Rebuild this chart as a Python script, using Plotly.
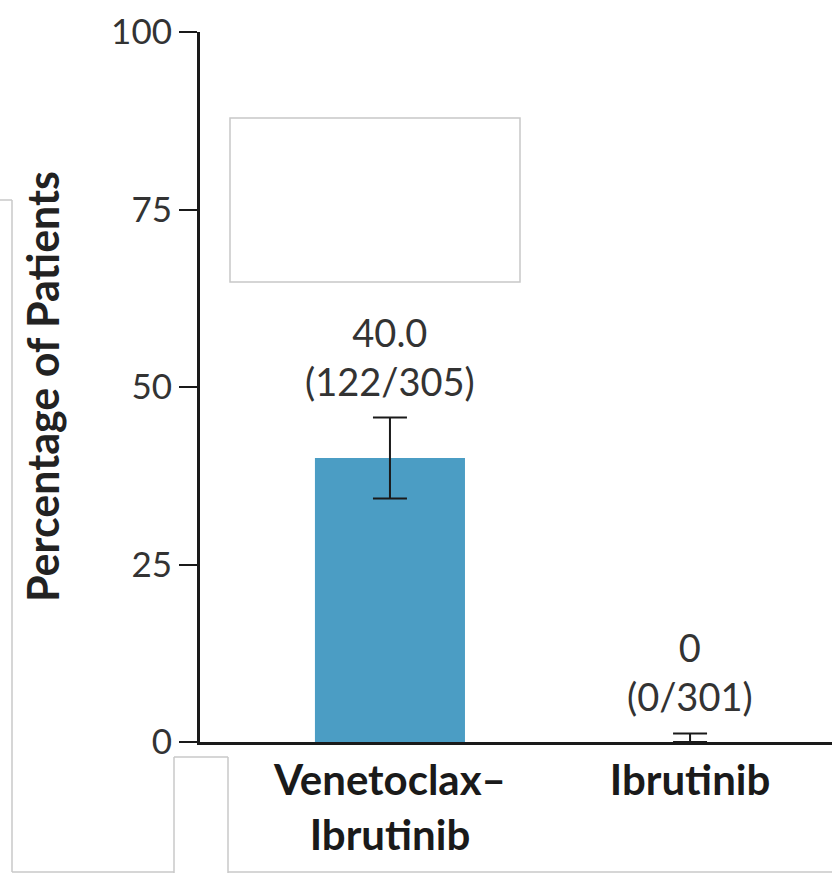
import plotly.graph_objects as go

categories = ["Venetoclax–<br>Ibrutinib", "Ibrutinib"]
percent = [40.0, 0.0]
err_plus = [5.7, 1.2]
err_minus = [5.7, 0.0]
value_labels = ["40.0", "0"]
count_labels = ["(122/305)", "(0/301)"]
y_ticks = [0, 25, 50, 75, 100]

FONT = "Lato"
W, H = 832, 873
L, R, T, B = 200, 0, 32, 131
pw, ph = W - L - R, H - T - B

def px(x):
    return (x - L) / pw

def py(y):
    return (H - B - y) / ph

fig = go.Figure()
fig.add_trace(go.Bar(
    x=[0, 1], y=percent, width=0.5,
    marker=dict(color="#4b9dc4", line=dict(width=0)),
    error_y=dict(type="data", symmetric=False, array=err_plus, arrayminus=err_minus,
                 color="#1a1a1a", thickness=2, width=17),
    showlegend=False, hoverinfo="skip",
))

annotations = []
for i in range(len(percent)):
    top = percent[i] + err_plus[i]
    annotations.append(dict(
        x=i, y=top, xref="x", yref="y", yanchor="bottom", yshift=12,
        text=value_labels[i] + "<br>" + count_labels[i], showarrow=False,
        font=dict(family=FONT, size=38, color="#333333"), align="center"))

annotations.append(dict(
    x=px(42), y=0.5, xref="paper", yref="paper", xanchor="center", yanchor="middle",
    text="<b>Percentage of Patients</b>", textangle=-90, showarrow=False,
    font=dict(family=FONT, size=43, color="#222222")))

gray = dict(color="#c8c8c8", width=1.5)
segs = [((0, 200), (12, 200)), ((12, 200), (12, 872)), ((12, 872), (174, 872)),
        ((174, 757), (174, 873)), ((174, 757), (228, 757)), ((228, 757), (228, 873)),
        ((228, 872), (832, 872))]
shapes = []
for (x0, y0), (x1, y1) in segs:
    shapes.append(dict(type="line", xref="paper", yref="paper",
                       x0=px(x0), y0=py(y0), x1=px(x1), y1=py(y1), line=gray))
shapes.append(dict(type="rect", xref="paper", yref="paper",
                   x0=px(230), y0=py(118), x1=px(520), y1=py(282), line=gray,
                   fillcolor="rgba(0,0,0,0)"))

fig.update_layout(
    width=W, height=H, margin=dict(l=L, r=R, t=T, b=B),
    paper_bgcolor="white", plot_bgcolor="white",
    annotations=annotations, shapes=shapes, bargap=0.5,
    xaxis=dict(range=[-0.633, 1.473], tickvals=[0, 1], ticktext=["<b>" + c.replace("<br>", "</b><br><b>") + "</b>" for c in categories],
               showline=True, linecolor="#1a1a1a", linewidth=3, ticks="", showgrid=False,
               zeroline=False, tickfont=dict(family=FONT, size=42, color="#1a1a1a"),
               fixedrange=True),
    yaxis=dict(range=[0, 100], tickvals=y_ticks, ticktext=[str(v) for v in y_ticks],
               showline=True, linecolor="#1a1a1a", linewidth=3, ticks="outside",
               ticklen=18, tickwidth=2, tickcolor="#1a1a1a", showgrid=False, zeroline=False,
               tickfont=dict(family=FONT, size=35, color="#333333"), ticklabelstandoff=0,
               fixedrange=True),
)

fig.write_html("out.html", config={"displayModeBar": False})
